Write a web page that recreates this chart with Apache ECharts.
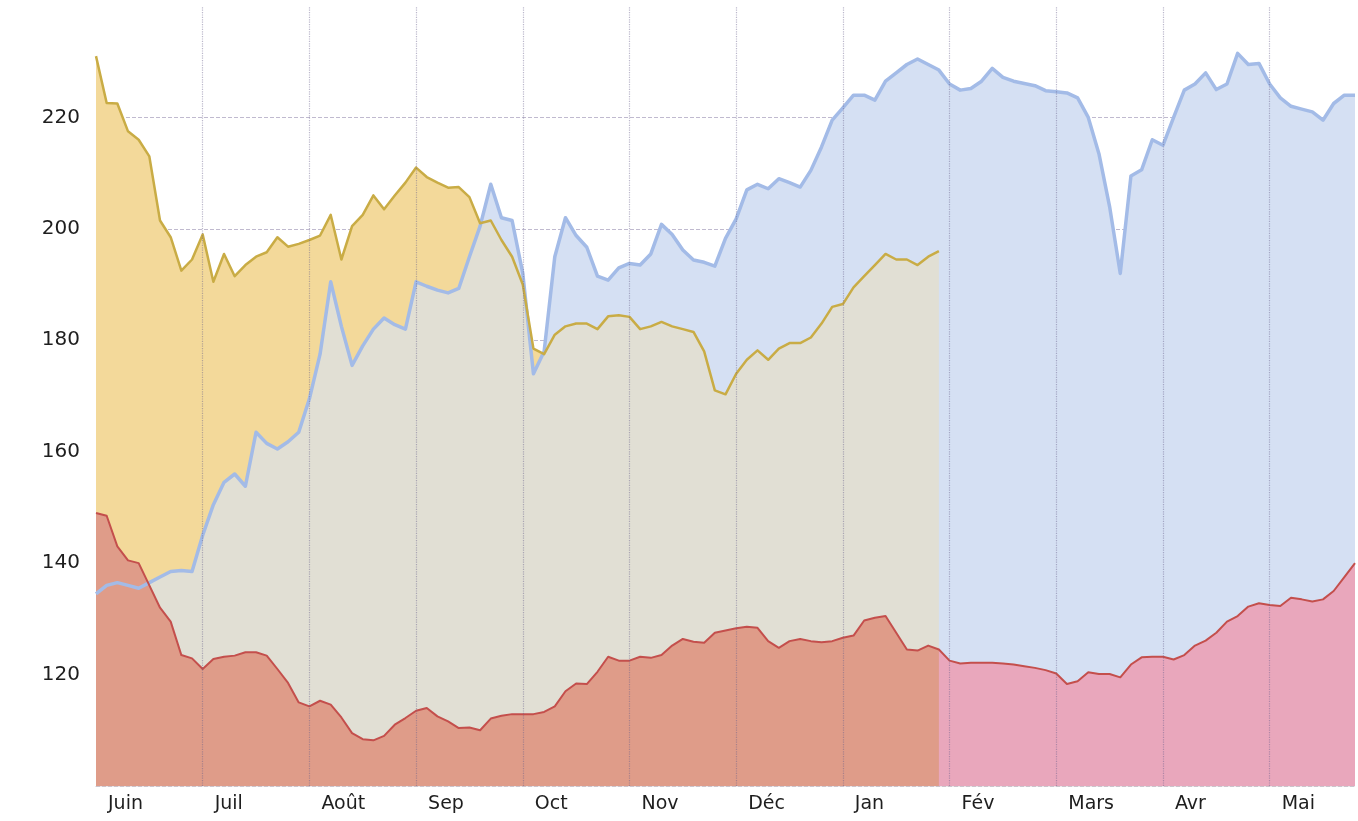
<!DOCTYPE html>
<html>
<head>
<meta charset="utf-8">
<script src="https://cdn.jsdelivr.net/npm/echarts@6/dist/echarts.min.js"></script>
<style>
html,body{margin:0;padding:0;background:#fff;}
#chart{width:1358px;height:821px;}
</style>
</head>
<body>
<div id="chart"></div>
<script>
// Month tick labels (one tick every STEPS samples)
const months = ['Juin','Juil','Août','Sep','Oct','Nov','Déc','Jan','Fév','Mars','Avr','Mai'];
const STEPS = 10; // samples per month
const yTicks = [120, 140, 160, 180, 200, 220];

// Orange series (ends late January)
const orange = [
  231, 222.6, 222.5, 217.5, 216, 213, 201.5, 198.5, 192.5, 194.5,
  199, 190.5, 195.5, 191.5, 193.5, 195, 195.8, 198.5, 196.8, 197.3,
  198, 198.8, 202.5, 194.5, 200.5, 202.5, 206, 203.5, 206, 208.3,
  211, 209.3, 208.3, 207.4, 207.5, 205.7, 201, 201.5, 198, 195,
  190, 178.5, 177.5, 181, 182.5, 183, 183, 182, 184.3, 184.5,
  184.2, 182, 182.5, 183.3, 182.5, 182, 181.5, 178, 171, 170.3,
  174, 176.5, 178.2, 176.5, 178.5, 179.5, 179.5, 180.5, 183, 186,
  186.5, 189.5, 191.5, 193.5, 195.5, 194.5, 194.5, 193.5, 195, 196
];

// Blue series (full period)
const blue = [
  134.5, 136, 136.5, 136, 135.5, 136.5, 137.5, 138.5, 138.7, 138.5,
  145, 150.5, 154.5, 156, 153.8, 163.5, 161.5, 160.5, 161.8, 163.5,
  169.5, 177.5, 190.5, 182.5, 175.5, 179, 182, 184, 182.8, 182,
  190.5, 189.7, 189, 188.5, 189.3, 195, 200.5, 208, 202, 201.5,
  192, 174, 178, 195, 202, 198.8, 196.7, 191.5, 190.8, 193,
  193.8, 193.5, 195.5, 200.8, 199, 196.2, 194.4, 194, 193.3, 198.3,
  201.8, 207, 208, 207.2, 209, 208.3, 207.5, 210.5, 214.7, 219.5,
  221.7, 224, 224, 223.1, 226.5, 228, 229.5, 230.5, 229.5, 228.5,
  226, 224.9, 225.2, 226.5, 228.8, 227.2, 226.5, 226.1, 225.7, 224.8,
  224.6, 224.4, 223.5, 220, 213.5, 204, 192, 209.5, 210.6, 216,
  215, 220, 224.9, 226, 228, 225, 226, 231.5, 229.5, 229.7,
  226, 223.5, 222, 221.5, 221, 219.5, 222.5, 224, 224
];

// Red series (full period)
const red = [
  149, 148.5, 143, 140.5, 140, 136, 132, 129.5, 123.5, 122.9,
  121, 122.8, 123.2, 123.4, 124, 124, 123.4, 121, 118.5, 115,
  114.3, 115.3, 114.6, 112.3, 109.5, 108.4, 108.2, 109, 111, 112.2,
  113.5, 114, 112.5, 111.6, 110.4, 110.5, 110, 112.1, 112.6, 112.9,
  112.9, 112.9, 113.3, 114.3, 117, 118.4, 118.3, 120.5, 123.2, 122.5,
  122.5, 123.2, 123, 123.5, 125.2, 126.4, 125.9, 125.7, 127.5, 127.9,
  128.3, 128.6, 128.4, 126, 124.8, 126, 126.4, 126, 125.8, 126,
  126.6, 127, 129.7, 130.2, 130.5, 127.5, 124.5, 124.3, 125.2, 124.5,
  122.5, 122, 122.1, 122.1, 122.1, 122, 121.8, 121.5, 121.2, 120.8,
  120.2, 118.3, 118.8, 120.4, 120.1, 120.1, 119.5, 121.8, 123.1, 123.2,
  123.2, 122.7, 123.5, 125.2, 126.1, 127.5, 129.5, 130.5, 132.2, 132.8,
  132.5, 132.3, 133.8, 133.5, 133.1, 133.5, 135, 137.5, 140
];

const categories = blue.map((_, i) => i);
const overlap = orange.map((v, i) => Math.min(v, blue[i]));
const redEarly = red.slice(0, orange.length);
const monthStarts = months.slice(1).map((_, k) => ({xAxis: (k + 1) * STEPS}));

const chart = echarts.init(document.getElementById('chart'), null, {renderer: 'canvas'});

function area(data, color) {
  return {
    type: 'line', data: data, symbol: 'none', silent: true,
    lineStyle: {opacity: 0, width: 0},
    areaStyle: {color: color, opacity: 1}
  };
}
function line(data, color, width) {
  return {
    type: 'line', data: data, symbol: 'none', silent: true,
    lineStyle: {color: color, width: width, join: 'round'}
  };
}

const gridCol = 'rgba(150,140,175,0.6)';

const redLine = line(red, '#c44f4c', 2);
redLine.markLine = {
  silent: true,
  symbol: 'none',
  label: {show: false},
  lineStyle: {type: 'dotted', color: 'rgba(105,95,140,0.45)', width: 1.2},
  data: monthStarts
};

chart.setOption({
  animation: false,
  backgroundColor: '#ffffff',
  grid: {left: 96, right: 3, top: 6, bottom: 35},
  xAxis: {
    type: 'category',
    data: categories,
    boundaryGap: false,
    axisTick: {show: false},
    axisLine: {show: true, lineStyle: {color: '#cbc4cc', type: 'dashed', width: 1}},
    axisLabel: {
      interval: (i) => i % STEPS === 0,
      formatter: (v, i) => months[Math.round(Number(v) / STEPS)] || '',
      align: 'left',
      padding: [0, 0, 0, 12],
      margin: 9,
      fontSize: 19,
      fontFamily: 'DejaVu Sans',
      color: '#1e1e1e'
    },
    splitLine: {show: false}
  },
  yAxis: {
    type: 'value',
    min: 100,
    max: 240,
    interval: 20,
    axisLine: {show: false},
    axisTick: {show: false},
    axisLabel: {
      showMinLabel: false,
      showMaxLabel: false,
      formatter: (v) => yTicks.includes(v) ? String(v) : '',
      margin: 16,
      fontSize: 20,
      fontFamily: 'DejaVu Sans',
      color: '#1e1e1e'
    },
    splitLine: {
      show: true,
      lineStyle: {
        type: 'dashed',
        color: [gridCol, gridCol, gridCol, gridCol, gridCol, gridCol, gridCol, 'rgba(0,0,0,0)'],
        width: 1
      }
    }
  },
  series: [
    area(orange, '#f3d99a'),
    area(blue, '#d5e0f3'),
    area(overlap, '#e1dfd4'),
    area(red, '#e9a7bc'),
    area(redEarly, '#df9c89'),
    line(blue, '#a3bbe7', 3.5),
    line(orange, '#c9ac45', 2.5),
    redLine
  ]
});
</script>
</body>
</html>
